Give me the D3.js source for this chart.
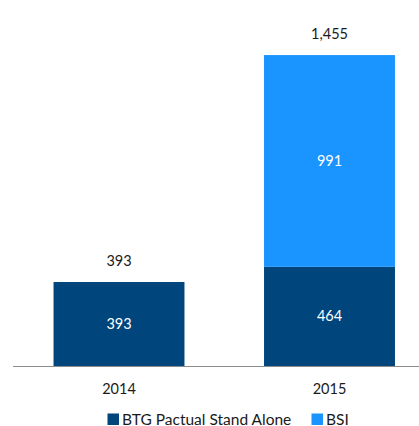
<!DOCTYPE html>
<html>
<head>
<meta charset="utf-8">
<script src="https://cdn.jsdelivr.net/npm/d3@7"></script>
<style>
  html, body { margin: 0; padding: 0; background: #fff; }
  svg { display: block; font-family: Lato, "Open Sans", sans-serif; }
</style>
</head>
<body>
<svg id="chart" width="419" height="426"></svg>
<script>
// Data
const years = ["2014", "2015"];
const seriesNames = ["BTG Pactual Stand Alone", "BSI"];
const standAlone = [393, 464];
const bsi = [0, 991];
const totals = [393, 1455];
const totalLabels = ["393", "1,455"];
const colors = ["#00457C", "#1A94FF"];

const svg = d3.select("#chart");
const W = 419;

const x = d3.scaleBand()
  .domain(years)
  .range([13.75, 434.75])
  .paddingInner(0.378)
  .paddingOuter(0.189);

const y = d3.scaleLinear()
  .domain([0, 1500])
  .range([366, 366 - 1500 * 0.2137]);

const rows = years.map((yr, i) => ({ year: yr, [seriesNames[0]]: standAlone[i], [seriesNames[1]]: bsi[i] }));
const stacked = d3.stack().keys(seriesNames)(rows);

// Bars
const layers = svg.append("g").selectAll("g")
  .data(stacked)
  .join("g")
  .attr("fill", (d, i) => colors[i]);

layers.selectAll("rect")
  .data(d => d.filter(p => p[1] > p[0]))
  .join("rect")
  .attr("x", d => x(d.data.year))
  .attr("width", x.bandwidth())
  .attr("y", d => y(d[1]))
  .attr("height", d => y(d[0]) - y(d[1]));

// Values inside segments
layers.selectAll("text")
  .data(d => d.filter(p => p[1] > p[0]))
  .join("text")
  .attr("x", d => x(d.data.year) + x.bandwidth() / 2)
  .attr("y", d => (y(d[0]) + y(d[1])) / 2)
  .attr("dy", "0.35em")
  .attr("text-anchor", "middle")
  .attr("fill", "#fff")
  .attr("font-size", 14.5)
  .text(d => d3.format(",")(d[1] - d[0]));

// Totals above bars
svg.append("g").selectAll("text")
  .data(years)
  .join("text")
  .attr("x", d => x(d) + x.bandwidth() / 2)
  .attr("y", (d, i) => y(totals[i]) - 21)
  .attr("dy", "0.35em")
  .attr("text-anchor", "middle")
  .attr("fill", "#1a1a1a")
  .attr("font-size", 14.5)
  .text((d, i) => totalLabels[i]);

// Baseline
svg.append("line")
  .attr("x1", 13).attr("x2", W)
  .attr("y1", y(0) + 0.5).attr("y2", y(0) + 0.5)
  .attr("stroke", "#8c8c8c")
  .attr("stroke-width", 1.2);

// Category axis
const axis = svg.append("g")
  .attr("transform", `translate(0,${y(0)})`)
  .call(d3.axisBottom(x).tickSize(0).tickPadding(0));
axis.select(".domain").remove();
axis.selectAll("text")
  .attr("y", 22.5)
  .attr("dy", "0.35em")
  .attr("fill", "#1a1a1a")
  .attr("font-size", 14.5)
  .attr("font-family", "Lato, 'Open Sans', sans-serif");

// Legend
const legendPos = [107.5, 311.5];
const legend = svg.append("g").selectAll("g")
  .data(seriesNames)
  .join("g")
  .attr("transform", (d, i) => `translate(${legendPos[i]},0)`);
legend.append("rect")
  .attr("x", 0).attr("y", 413.5)
  .attr("width", 11.5).attr("height", 11.5)
  .attr("fill", (d, i) => colors[i]);
legend.append("text")
  .attr("x", 14.5)
  .attr("y", 424.5)
  .attr("fill", "#1a1a1a")
  .attr("font-size", 15.5)
  .text(d => d);
</script>
</body>
</html>
